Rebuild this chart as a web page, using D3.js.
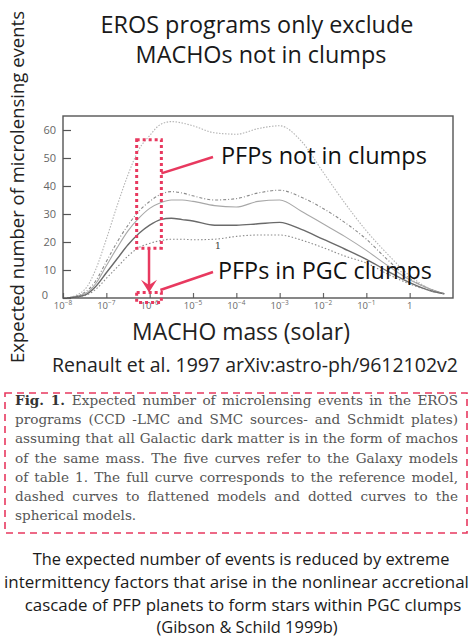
<!DOCTYPE html>
<html><head><meta charset="utf-8">
<script src="https://cdn.jsdelivr.net/npm/d3@7"></script>
<style>html,body{margin:0;padding:0;background:#fff;overflow:hidden}svg{display:block}</style>
</head><body>
<script>
// ---- data ----
const logMass = [-7.9,-7.5,-7.25,-7,-6.75,-6.5,-6.25,-6,-5.75,-5.5,-5.25,-5,-4.5,-4,-3.5,-3,-2.5,-2,-1.5,-1,-0.5,0,0.5,0.8];
const sphericalA = [0,3,10,21,33,44,53,58,62,63,62.5,61.5,59,58.5,60.5,61.5,56,45,34,24,15.5,8,3,1.5];
const flattenedB = [0,2,6,13,20,26,31,34.5,37,38,37.5,36.5,35,35.5,37.5,38.5,36,32,27,21,13.5,7,3,1.5];
const flattenedC = [0,1.5,5,11.5,18,24,28.5,32,34,35,35,34.5,33,32.5,34.5,35,31,26.5,22,17,11.5,6.5,3,1.5];
const referenceD = [0,1,4,9,14,19,23,26,28,28.5,28,27.5,26,26,26.5,27,24.5,21,17.5,13.8,9.5,5.5,2.5,1.5];
const sphericalE = [0,0.8,3,7,11,15,18,19.5,20.5,21,21,20.8,21,22,22.5,22.5,20.7,18,15,12.5,8.5,5,2.5,1.5];
const xTickExp = [-8,-7,-6,-5,-4,-3,-2,-1,0];
const yTicks = [0,10,20,30,40,50,60];
const titleLines = ["EROS programs only exclude","MACHOs not in clumps"];
const yLabel = "Expected number of microlensing events";
const xLabel = "MACHO mass (solar)";
const sourceLine = "Renault et al. 1997 arXiv:astro-ph/9612102v2";
const labelNot = "PFPs not in clumps";
const labelIn = "PFPs in PGC clumps";
const captionLines = [
 "Expected number of microlensing events in the EROS",
 "programs (CCD -LMC and SMC sources- and Schmidt plates)",
 "assuming that all Galactic dark matter is in the form of machos",
 "of the same mass. The five curves refer to the Galaxy models",
 "of table 1. The full curve corresponds to the reference model,",
 "dashed curves to flattened models and dotted curves to the",
 "spherical models."];
const bottomLines = [
 "The expected number of events is reduced by extreme",
 "intermittency factors that arise in the nonlinear accretional",
 "cascade of PFP planets to form stars within PGC clumps",
 "(Gibson & Schild 1999b)"];

const W=473,H=637;
const RED="#e8395f";
const SANS="'Open Sans','Noto Sans',sans-serif";
const SERIF="'DejaVu Serif','Liberation Serif',serif";
const svg=d3.select("body").append("svg").attr("width",W).attr("height",H);
svg.append("rect").attr("width",W).attr("height",H).attr("fill","#fff");

function fitSize(sel, target){ // sets font-size so text width equals target
  const base=20; sel.attr("font-size",base);
  const w=sel.node().getComputedTextLength();
  const fs=base*target/w; sel.attr("font-size",fs); return fs;
}

// ---- title ----
const t1=svg.append("text").attr("x",257).attr("y",33).attr("text-anchor","middle").attr("font-family",SANS).attr("fill","#1a1a1a").text(titleLines[0]);
const tfs=fitSize(t1,313);
svg.append("text").attr("x",261).attr("y",63).attr("text-anchor","middle").attr("font-family",SANS).attr("fill","#1a1a1a").attr("font-size",tfs).text(titleLines[1]);

// ---- plot ----
const x=d3.scaleLog().domain([1e-8,10]).range([63,453]);
const y=d3.scaleLinear().domain([0,65]).range([298,116]);
const g=svg.append("g");

// ticks inward
const xAxis=d3.axisTop(x).tickValues(xTickExp.map(e=>Math.pow(10,e))).tickSize(5).tickFormat("");
g.append("g").attr("transform","translate(0,298)").call(xAxis).call(s=>{s.select(".domain").remove();s.selectAll("line").attr("stroke","#666").attr("stroke-width",1.2);});
const yAxis=d3.axisRight(y).tickValues(yTicks).tickSize(8).tickFormat("");
g.append("g").attr("transform","translate(63,0)").call(yAxis).call(s=>{s.select(".domain").remove();s.selectAll("line").attr("stroke","#555").attr("stroke-width",1.2);});

// tick labels
xTickExp.forEach(e=>{
  const tx=g.append("text").attr("x",x(Math.pow(10,e))).attr("y",309).attr("text-anchor","middle")
    .attr("font-family",SANS).attr("font-size",9.5).attr("fill","#6a6a6a");
  if(e===0){tx.text("1");}
  else{tx.append("tspan").text("10");tx.append("tspan").attr("dy",-4).attr("font-size",6.5).text(String(e).replace("-","−"));}
});
yTicks.forEach(v=>{
  g.append("text").attr("x",v===0?48:56).attr("y",y(v)+(v===0?1:4)).attr("text-anchor","end")
   .attr("font-family",SANS).attr("font-size",11).attr("fill","#666").text(v);
});

// curves
const line=d3.line().x(d=>x(Math.pow(10,d[0]))).y(d=>y(d[1])).curve(d3.curveMonotoneX);
const series=[
 {v:sphericalA,stroke:"#b4b4b4",w:1.1,dash:"1.5,1.5"},
 {v:flattenedB,stroke:"#8a8a8a",w:1.1,dash:"3,2,1,2"},
 {v:flattenedC,stroke:"#a8a8a8",w:1.1,dash:null},
 {v:referenceD,stroke:"#6a6a6a",w:1.4,dash:null},
 {v:sphericalE,stroke:"#8a8a8a",w:1.1,dash:"1.5,2"}];
series.forEach(s=>{
  g.append("path").datum(logMass.map((m,i)=>[m,s.v[i]])).attr("d",line).attr("fill","none")
   .attr("stroke",s.stroke).attr("stroke-width",s.w).attr("stroke-dasharray",s.dash);
});
g.append("text").attr("x",218).attr("y",249).attr("text-anchor","middle").attr("font-family",SERIF).attr("font-size",10).attr("fill","#444").text("1");

// frame
g.append("rect").attr("x",63).attr("y",116).attr("width",390).attr("height",182).attr("fill","none").attr("stroke","#555").attr("stroke-width",1.4);

// ---- red annotations ----
const rx0=x(Math.pow(10,-6.3)), rx1=x(Math.pow(10,-5.73));
svg.append("rect").attr("x",rx0).attr("y",y(56.5)).attr("width",rx1-rx0).attr("height",y(17.8)-y(56.5))
  .attr("fill","none").attr("stroke",RED).attr("stroke-width",3).attr("stroke-dasharray","3,3");
svg.append("rect").attr("x",rx0).attr("y",y(2)).attr("width",rx1-rx0).attr("height",10)
  .attr("fill","none").attr("stroke",RED).attr("stroke-width",3).attr("stroke-dasharray","3,3");
const ax=(rx0+rx1)/2;
svg.append("line").attr("x1",ax).attr("x2",ax).attr("y1",y(17.8)).attr("y2",y(4)).attr("stroke",RED).attr("stroke-width",2.5);
svg.append("path").attr("d",`M${ax-8},${y(6.5)} L${ax},${y(2)} L${ax+8},${y(6.5)} L${ax},${y(4.6)} Z`).attr("fill",RED);
svg.append("line").attr("x1",rx1).attr("y1",y(44.5)).attr("x2",213).attr("y2",157).attr("stroke",RED).attr("stroke-width",2.5);
svg.append("line").attr("x1",rx1-1).attr("y1",290).attr("x2",213).attr("y2",272).attr("stroke",RED).attr("stroke-width",2.5);

const l1=svg.append("text").attr("x",221).attr("y",164).attr("font-family",SANS).attr("fill","#111").text(labelNot);
fitSize(l1,206);
const l2=svg.append("text").attr("x",218).attr("y",279).attr("font-family",SANS).attr("fill","#111").text(labelIn);
fitSize(l2,214);

// ---- axis labels ----
const yl=svg.append("text").attr("transform","translate(24,187) rotate(-90)").attr("text-anchor","middle").attr("font-family",SANS).attr("fill","#222").text(yLabel);
fitSize(yl,352);
const xl=svg.append("text").attr("x",241).attr("y",340).attr("text-anchor","middle").attr("font-family",SANS).attr("fill","#222").text(xLabel);
fitSize(xl,218);
const sl=svg.append("text").attr("x",255).attr("y",372).attr("text-anchor","middle").attr("font-family",SANS).attr("fill","#222").text(sourceLine);
fitSize(sl,406);

// ---- caption box ----
svg.append("rect").attr("x",5).attr("y",393).attr("width",462).attr("height",140).attr("fill","none")
  .attr("stroke",RED).attr("stroke-width",1.6).attr("stroke-dasharray","7,5");
const capX=15, capW=443, capFs=13.6;
captionLines.forEach((ln,i)=>{
  const t=svg.append("text").attr("x",capX).attr("y",405+i*19.2).attr("font-family",SERIF).attr("font-size",capFs).attr("fill","#555");
  if(i===0){t.append("tspan").attr("font-weight","bold").attr("fill","#333").text("Fig. 1. ");}
  t.append("tspan").text(ln);
  if(i<captionLines.length-1){
    const w=t.node().getComputedTextLength();
    const full=(i===0?"Fig. 1. ":"")+ln;
    const spaces=(full.match(/ /g)||[]).length;
    t.attr("word-spacing",(capW-w)/spaces);
  }
});

// ---- bottom text ----
const bX=[241,236.5,243,247], bY=[565,588,611,633], bWid=[417,465,437,null];
let bfs=null;
bottomLines.forEach((ln,i)=>{
  const t=svg.append("text").attr("x",bX[i]).attr("y",bY[i]).attr("text-anchor","middle").attr("font-family",SANS).attr("fill","#1a1a1a").text(ln);
  if(bWid[i]) { const f=fitSize(t,bWid[i]); if(i===0) bfs=f; }
  else t.attr("font-size",bfs);
});
</script>
</body></html>
